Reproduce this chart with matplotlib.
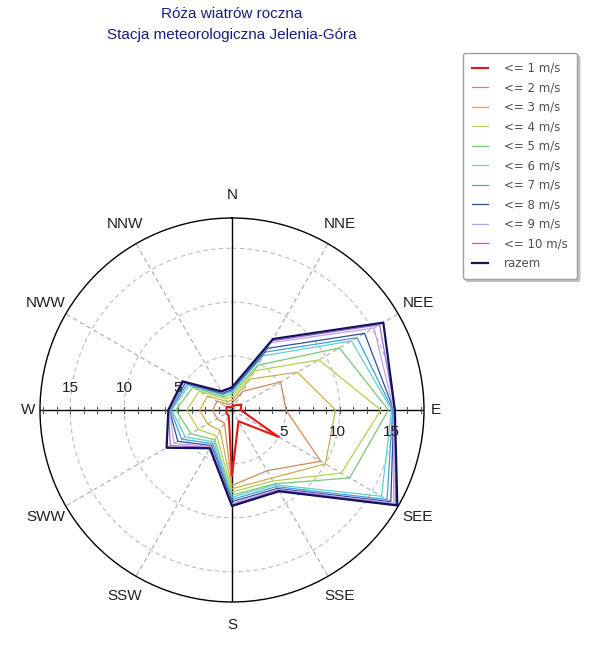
import numpy as np
import matplotlib.pyplot as plt

plt.rcParams['font.family'] = ['Liberation Sans', 'DejaVu Sans']

# kierunki wiatru (co 30 stopni)
directions = ['N', 'NNE', 'NEE', 'E', 'SEE', 'SSE', 'S', 'SSW', 'SWW', 'W', 'NWW', 'NNW']
angles_deg = [0, 30, 60, 90, 120, 150, 180, 210, 240, 270, 300, 330]

# czestosc [%] skumulowana wg predkosci, kolejnosc jak w directions
le1 = [0.3, 0.5, 1.0, 0.8, 5.0, 1.2, 6.1, 0.6, 0.6, 0.5, 0.6, 0.3]
le2 = [0.6, 2.0, 5.2, 5.0, 9.5, 6.5, 7.0, 1.4, 1.6, 1.8, 1.6, 0.6]
le3 = [0.9, 3.3, 7.0, 9.6, 10.0, 7.3, 7.3, 2.2, 2.6, 3.0, 2.6, 0.9]
le4 = [1.2, 4.2, 9.3, 13.8, 11.7, 7.6, 7.6, 2.8, 3.6, 4.2, 3.5, 1.2]
le5 = [1.5, 4.8, 11.5, 14.5, 12.6, 7.9, 7.9, 3.2, 4.4, 5.2, 4.2, 1.4]
le6 = [1.7, 5.8, 12.8, 14.8, 16.0, 8.0, 8.1, 3.4, 5.0, 5.6, 4.6, 1.6]
le7 = [1.8, 6.2, 13.4, 14.9, 16.6, 8.2, 8.3, 3.6, 5.4, 5.7, 4.8, 1.7]
le8 = [1.9, 6.6, 14.2, 15.0, 17.0, 8.4, 8.5, 3.8, 5.8, 5.8, 5.0, 1.8]
le9 = [2.0, 7.2, 15.2, 15.0, 17.3, 8.5, 8.7, 3.9, 6.2, 5.8, 5.1, 1.9]
le10 = [2.05, 7.4, 15.8, 15.1, 17.5, 8.6, 8.8, 4.0, 6.6, 5.9, 5.2, 1.95]
razem = [2.1, 7.6, 16.2, 15.1, 17.7, 8.7, 8.9, 4.1, 7.0, 5.9, 5.3, 2.0]

series = [le1, le2, le3, le4, le5, le6, le7, le8, le9, le10, razem]
labels = ['<= 1 m/s', '<= 2 m/s', '<= 3 m/s', '<= 4 m/s', '<= 5 m/s', '<= 6 m/s',
          '<= 7 m/s', '<= 8 m/s', '<= 9 m/s', '<= 10 m/s', 'razem']
colors = ['#e01818', '#d08a58', '#c8b048', '#b4d050', '#78c878', '#60d0d0',
          '#40a0e0', '#305090', '#c0a4ea', '#a468d6', '#12125e']

rings = [5, 10, 15]
rmax = 17.8

fig = plt.figure(figsize=(5.95, 6.48), dpi=100)
ax = fig.add_axes([0.0672, 0.071, 0.6454, 0.5926], projection='polar')
ax.set_theta_zero_location('N')
ax.set_theta_direction(-1)
ax.set_ylim(0, rmax)
ax.set_xticks([])
ax.set_yticks([])
ax.grid(False)
ax.spines['polar'].set_color('black')
ax.spines['polar'].set_linewidth(1.0)

# siatka: okregi i promienie przerywane
th = np.linspace(0, 2 * np.pi, 361)
for r in rings:
    ax.plot(th, np.full_like(th, r), ls=(0, (4, 3)), color='#bcbcbc', lw=0.8, zorder=1)
for a in angles_deg:
    rad = np.deg2rad(a)
    if a % 90:
        ax.plot([rad, rad], [0, rmax], ls=(0, (4, 3)), color='#aaaaaa', lw=0.8, zorder=1)
    else:
        ax.plot([rad, rad], [0, rmax], color='black', lw=1.0, zorder=1.5)

# drobne znaczniki na osi W-E
rt = np.arange(1.25, rmax, 1.25)
for a in (90, 270):
    ax.plot(np.full(len(rt), np.deg2rad(a)), rt, marker='|', ls='none',
            color='#555555', ms=5, mew=0.8, zorder=1.5)

# dane
th_closed = np.deg2rad(angles_deg + [360])
handles = []
for vals, lab, col in zip(series, labels, colors):
    lw, z = 0.9, 2
    if lab == 'razem':
        lw = 1.6
    if lab == '<= 1 m/s':
        lw, z = 1.5, 3
    h, = ax.plot(th_closed, vals + vals[:1], color=col, lw=lw, label=lab, zorder=z)
    handles.append(h)

# opisy kierunkow
for name, a in zip(directions, angles_deg):
    r_lab = 18.9 if a in (90, 270) else 19.9
    ax.text(np.deg2rad(a), r_lab, name, ha='center', va='center',
            fontsize=11, color='#202020')

# opisy okregow
for r in rings:
    ax.annotate(str(r), xy=(np.pi / 2, r), xytext=(-2, -16), textcoords='offset points',
                ha='center', va='center', fontsize=11, color='#202020')
    ax.annotate(str(r), xy=(3 * np.pi / 2, r), xytext=(0, 16), textcoords='offset points',
                ha='center', va='center', fontsize=11, color='#202020')

fig.text(232 / 595, 1 - 14 / 648, 'Róża wiatrów roczna', ha='center', va='center',
         fontsize=11, color='#1c1c80')
fig.text(232 / 595, 1 - 35 / 648, 'Stacja meteorologiczna Jelenia-Góra', ha='center',
         va='center', fontsize=11, color='#1c1c80')

leg = fig.legend(handles=handles, loc='upper left', bbox_to_anchor=(463 / 595, 1 - 53 / 648),
                 borderaxespad=0, prop={'family': 'DejaVu Sans', 'size': 8.5},
                 labelspacing=0.55, handlelength=1.35, handletextpad=1.4,
                 borderpad=0.75, fancybox=True, edgecolor='#a0a0a0', framealpha=1,
                 shadow={'color': '#c0c0c0', 'alpha': 1})
for t in leg.get_texts():
    t.set_color('#505050')

fig.savefig('out.png', dpi=100)
